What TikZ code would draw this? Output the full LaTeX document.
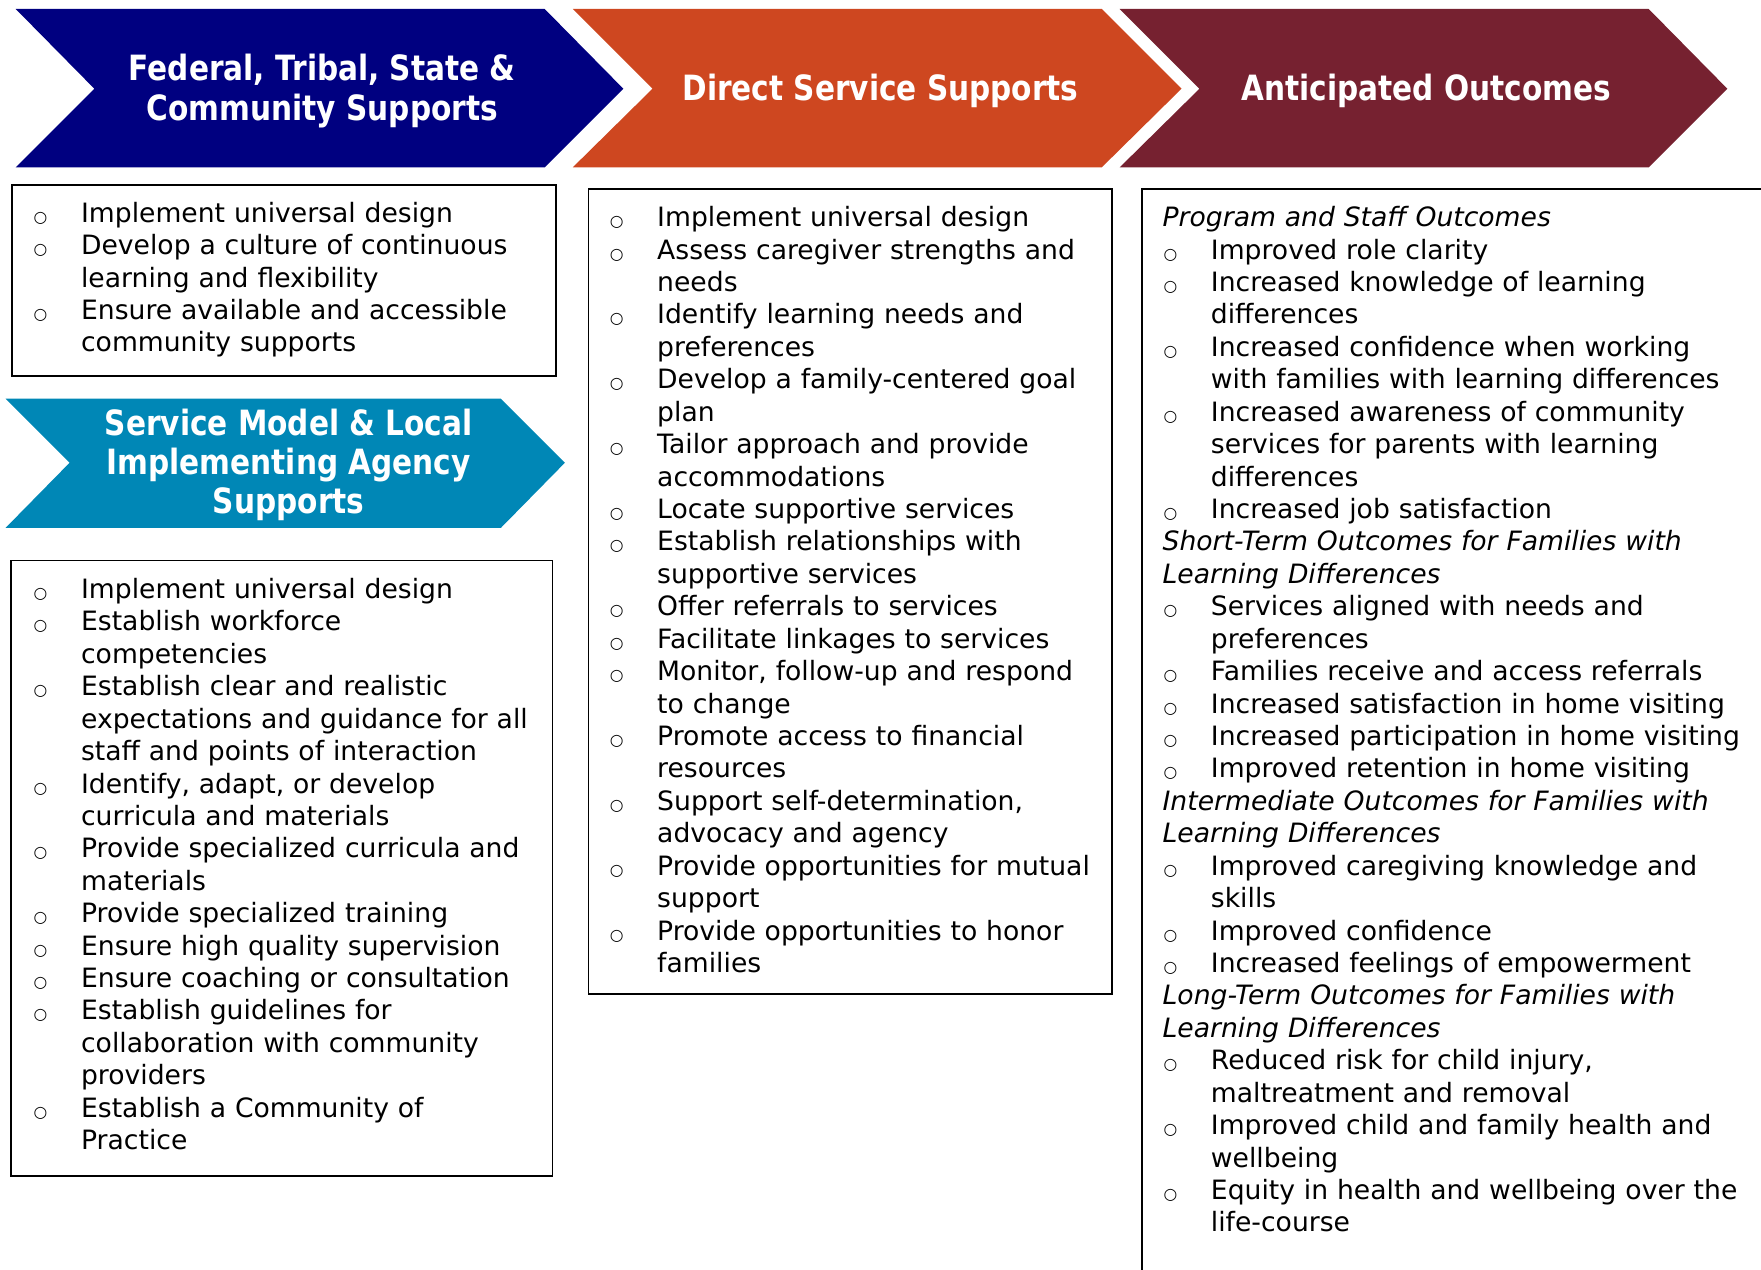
\documentclass[tikz,border=0pt]{standalone}
\usepackage{fontspec}
\setmainfont{DejaVu Sans}
\newfontfamily\titlefont{DejaVu Sans Bold}[FakeStretch=0.85]
\definecolor{cnavy}{RGB}{0,0,128}
\definecolor{corange}{RGB}{206,71,32}
\definecolor{cmaroon}{RGB}{118,33,48}
\definecolor{cteal}{RGB}{0,135,182}
\newcommand{\bodyfnt}{\fontsize{23.7}{28.87}\selectfont}
\newcommand{\bi}[1]{\par\noindent\hangindent=43pt\hangafter=1\makebox[43pt][l]{\hspace{0.8pt}{\fontsize{14}{14}\selectfont ○}}#1}
\newcommand{\hd}[1]{\par\noindent{\itshape #1}}
\newcommand{\nl}{\newline}
\tikzset{
  txtblk/.style={anchor=base west, inner sep=0pt, text width=620pt, font=\bodyfnt},
  ttl/.style={text=white, align=center, inner sep=0pt, font=\titlefont\fontsize{31}{35}\selectfont},
  boxline/.style={draw=black, line width=1.6pt}
}
\begin{document}
\begin{tikzpicture}[x=1pt,y=-1pt]
\useasboundingbox (0,0) rectangle (1568,1130);
% chevrons
\fill[cnavy] (14,8) -- (485,8) -- (555,79) -- (485,149) -- (14,149) -- (84,79) -- cycle;
\fill[corange] (510,8) -- (981,8) -- (1052,79) -- (981,149) -- (510,149) -- (581,79) -- cycle;
\fill[cmaroon] (997,8) -- (1468,8) -- (1538,79) -- (1468,149) -- (997,149) -- (1068,79) -- cycle;
\fill[cteal] (5,355) -- (446,355) -- (503,412) -- (446,470) -- (5,470) -- (62,412) -- cycle;
\node[ttl] (tFed) at (287,81) {Federal, Tribal, State \&\\Community Supports};
\node[ttl] (tDir) at (784,81) {Direct Service Supports};
\node[ttl] (tOut) at (1270,81) {Anticipated Outcomes};
\node[ttl] (tSvc) at (257,414) {Service Model \& Local\\Implementing Agency\\Supports};
% boxes
\draw[boxline] (11,165) rectangle (495,335);
\draw[boxline] (10,499) rectangle (492,1047);
\draw[boxline] (524,168) rectangle (990,885);
\draw[boxline] (1017,1135) -- (1017,168) -- (1575,168);
% texts
\node[txtblk] (b1text) at (29,169) {%
\bi{Implement universal design}
\bi{Develop a culture of continuous\nl learning and flexibility}
\bi{Ensure available and accessible\nl community supports}\par};
\node[txtblk] (b2text) at (29,504) {%
\bi{Implement universal design}
\bi{Establish workforce\nl competencies}
\bi{Establish clear and realistic\nl expectations and guidance for all\nl staff and points of interaction}
\bi{Identify, adapt, or develop\nl curricula and materials}
\bi{Provide specialized curricula and\nl materials}
\bi{Provide specialized training}
\bi{Ensure high quality supervision}
\bi{Ensure coaching or consultation}
\bi{Establish guidelines for\nl collaboration with community\nl providers}
\bi{Establish a Community of\nl Practice}\par};
\node[txtblk] (b3text) at (542,173) {%
\bi{Implement universal design}
\bi{Assess caregiver strengths and\nl needs}
\bi{Identify learning needs and\nl preferences}
\bi{Develop a family-centered goal\nl plan}
\bi{Tailor approach and provide\nl accommodations}
\bi{Locate supportive services}
\bi{Establish relationships with\nl supportive services}
\bi{Offer referrals to services}
\bi{Facilitate linkages to services}
\bi{Monitor, follow-up and respond\nl to change}
\bi{Promote access to financial\nl resources}
\bi{Support self-determination,\nl advocacy and agency}
\bi{Provide opportunities for mutual\nl support}
\bi{Provide opportunities to honor\nl families}\par};
\node[txtblk] (b4text) at (1035,173) {%
\hd{Program and Staff Outcomes}
\bi{Improved role clarity}
\bi{Increased knowledge of learning\nl differences}
\bi{Increased confidence when working\nl with families with learning differences}
\bi{Increased awareness of community\nl services for parents with learning\nl differences}
\bi{Increased job satisfaction}
\hd{Short-Term Outcomes for Families with\nl Learning Differences}
\bi{Services aligned with needs and\nl preferences}
\bi{Families receive and access referrals}
\bi{Increased satisfaction in home visiting}
\bi{Increased participation in home visiting}
\bi{Improved retention in home visiting}
\hd{Intermediate Outcomes for Families with\nl Learning Differences}
\bi{Improved caregiving knowledge and\nl skills}
\bi{Improved confidence}
\bi{Increased feelings of empowerment}
\hd{Long-Term Outcomes for Families with\nl Learning Differences}
\bi{Reduced risk for child injury,\nl maltreatment and removal}
\bi{Improved child and family health and\nl wellbeing}
\bi{Equity in health and wellbeing over the\nl life-course}\par};
\end{tikzpicture}
\end{document}
